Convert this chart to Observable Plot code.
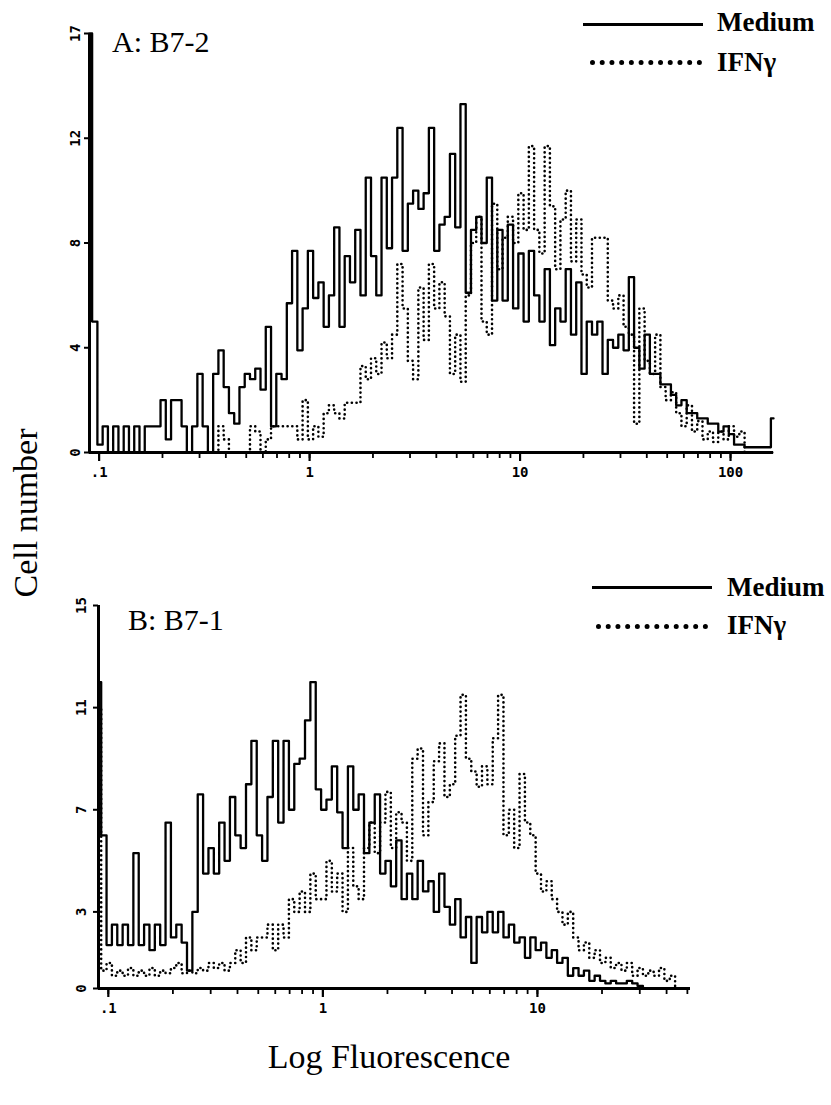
<!DOCTYPE html>
<html>
<head>
<meta charset="utf-8">
<script src="https://cdn.jsdelivr.net/npm/d3@7"></script>
<script src="https://cdn.jsdelivr.net/npm/@observablehq/plot@0.6"></script>
<style>
  body { margin: 0; background: #fff; }
  #wrap { position: relative; width: 831px; height: 1105px; overflow: hidden;
          font-family: "Liberation Serif", "Times New Roman", serif; color: #000; }
  .abs { position: absolute; white-space: nowrap; line-height: 1; }
  .title { font-size: 30px; }
  .leg { font-size: 27px; font-weight: bold; }
  .axlab { font-size: 34px; }
  .solid { border-top: 3px solid #000; height: 0; }
  .dots { border-top: 5px dotted #000; height: 0; }
</style>
</head>
<body>
<div id="wrap"></div>
<script>
// Histogram channels: 40 channels per decade, first channel at 0.09
const channelsPerDecade = 40;
const firstChannel = 0.09;

// Panel A: B7-2 (cell counts per channel)
const mediumA = [
  16, 5, 0.3, 1, 0, 1, 0, 1, 0, 1,
  0, 1, 1, 1, 2, 0.5, 2, 2, 1, 0,
  1, 3, 1, 0, 3, 3.9, 2.5, 1.5, 1.1, 2.5,
  3, 2.8, 3.2, 2.4, 4.8, 1, 3, 2.8, 5.7, 7.7,
  3.9, 5.5, 7.7, 5.9, 6.5, 4.8, 6, 8.6, 4.8, 7.5,
  6.5, 8.5, 6, 10.5, 7.5, 6, 10.5, 7.8, 10.5, 12.4,
  7.7, 9.5, 10, 9.3, 9.9, 12.4, 7.7, 8.7, 9, 11.4,
  8.6, 13.3, 6.1, 8.5, 9, 8, 10.5, 5.8, 8.5, 5.8,
  8.7, 5.5, 7.6, 5, 7.7, 6, 5, 7, 4.1, 5.5,
  5, 7, 4.5, 6.5, 3, 5, 4.5, 5, 3, 4.3,
  4, 4.5, 3.9, 6.7, 4, 3.2, 4.5, 3, 3, 2.6,
  2.6, 2.2, 1.8, 2, 1.5, 1.5, 1.3, 1.3, 1.1, 1.1,
  0.8, 1, 0.7, 0.3, 0.3, 0.2, 0.2, 0.2, 0.2, 0.2,
  1.3
];
const ifnA = [
  0, 0, 0, 0, 0, 0, 0, 0, 0, 0,
  0, 0, 0, 0, 0, 0, 0, 0, 0, 0,
  0, 0, 0, 0, 0, 1, 0.5, 0, 0, 0,
  0, 1, 0.8, 0, 0.5, 1, 1, 1, 1, 1,
  0.5, 2, 0.5, 1, 0.6, 1.5, 1.8, 1.5, 1.3, 1.9,
  1.9, 1.9, 3.3, 2.8, 3.6, 3, 4.2, 3.6, 4.5, 7.2,
  5.5, 3.5, 2.8, 6.3, 4.3, 7.2, 5.5, 6.5, 5.2, 3,
  4.5, 2.7, 6, 8, 9, 5, 4.5, 9.5, 7, 8.2,
  9, 8, 9.9, 8.5, 11.7, 8.5, 7.6, 11.7, 9.4, 7,
  8.9, 10, 7.3, 8.9, 6.8, 6.3, 8.2, 8.2, 8.2, 5.8,
  5.5, 6, 4.8, 4.5, 1.1, 5.5, 3.5, 3, 4.5, 2.5,
  2, 2.3, 1.5, 1, 1.8, 0.8, 1.2, 0.5, 0.8, 0.4,
  0.8, 0.5, 1, 0.6, 0.8, 0, 0, 0, 0, 0,
  0
];

// Panel B: B7-1
const mediumB = [
  12, 6, 1.7, 2.5, 1.7, 2.5, 1.7, 5.3, 1.7, 2.5,
  1.5, 2.5, 1.7, 6.5, 2, 2.5, 1.8, 0.7, 3, 7.6,
  4.5, 5.5, 4.5, 6.5, 5, 7.5, 6, 5.5, 8, 9.7,
  6, 5, 7.5, 9.7, 6.5, 9.7, 7, 8.8, 9, 10.5,
  12, 7.8, 7, 7.4, 8.7, 6.9, 5.5, 8.7, 7, 7.6,
  5.3, 6.5, 7.6, 4.5, 5, 4, 5.8, 3.5, 4.5, 3.5,
  5, 3.8, 4.2, 3, 4.5, 3.2, 2.5, 3.5, 2, 2.8,
  1, 2.8, 2.2, 3, 2.2, 3, 2, 2.5, 1.8, 2,
  1.2, 2, 1.5, 1.8, 1.2, 1.5, 1, 1.2, 0.5, 0.8,
  0.5, 0.7, 0.3, 0.5, 0.3, 0.2, 0.3, 0.2, 0.2, 0.3,
  0.2, 0.1, 0, 0, 0, 0, 0, 0, 0, 0,
  0
];
const ifnB = [
  11, 0.7, 1, 0.5, 0.7, 0.5, 0.8, 0.5, 0.7, 0.5,
  0.8, 0.5, 0.7, 0.6, 0.8, 1, 0.6, 0.7, 0.6, 0.8,
  0.7, 1, 0.8, 1, 0.7, 1, 1.5, 1, 2, 1.5,
  2, 2, 2.5, 1.5, 2.5, 2, 3.5, 3, 3.8, 3,
  4.5, 3.5, 3.5, 5, 3.8, 4.5, 3, 5.5, 4, 3.5,
  5.5, 6.5, 5.3, 6.5, 7.7, 5.5, 6.9, 6.5, 5, 9,
  9.4, 6, 7.3, 8.9, 9.6, 7.5, 8, 9.9, 11.5, 9,
  8.5, 7.9, 8.7, 8, 9.8, 11.5, 6, 7, 5.5, 8.4,
  6.5, 6, 4.5, 3.8, 4.2, 3.5, 3, 2.5, 3, 2,
  1.5, 1.8, 1.2, 1.5, 1, 1.2, 0.8, 1, 0.7, 1,
  0.5, 0.8, 0.5, 0.7, 0.5, 0.8, 0.3, 0.5, 0, 0,
  0
];

// Axis ticks and labels
const yTicksA = [0, 4, 8, 12, 16];
const yTickLabelsA = ["0", "4", "8", "12", "17"];
const yTicksB = [0, 3, 7, 11, 15];
const yTickLabelsB = ["0", "3", "7", "11", "15"];
const xMinorTicksA = [0.1,0.2,0.3,0.4,0.5,0.6,0.7,0.8,0.9,1,2,3,4,5,6,7,8,9,10,20,30,40,50,60,70,80,90,100];
const xMinorTicksB = [0.1,0.2,0.3,0.4,0.5,0.6,0.7,0.8,0.9,1,2,3,4,5,6,7,8,9,10,20,30,40,50];
const xMajorTicksA = [0.1, 1, 10, 100];
const xMajorLabelsA = [".1", "1", "10", "100"];
const xMajorTicksB = [0.1, 1, 10];
const xMajorLabelsB = [".1", "1", "10"];

const seriesNames = ["Medium", "IFN\u03b3"];
const panelTitles = ["A: B7-2", "B: B7-1"];

const toRows = counts => counts.map((c, i) => ({x: firstChannel * 10 ** (i / channelsPerDecade), y: c}));

function panel(o) {
  const monoBold = {fontFamily: "DejaVu Sans Mono", fontWeight: "bold", fontSize: 14, fill: "#000"};
  return Plot.plot({
    width: 831, height: o.h,
    marginLeft: o.ml, marginRight: o.mr, marginTop: o.mt, marginBottom: 40,
    x: {type: "log", domain: o.xDomain, label: null},
    y: {domain: o.yDomain, label: null},
    style: {background: "transparent", overflow: "visible"},
    marks: [
      Plot.axisX({ticks: o.xMinor, tickFormat: () => "", tickSize: 6, strokeWidth: 1.8, label: null}),
      Plot.axisX({ticks: o.xMajor, tickFormat: () => "", tickSize: 9, strokeWidth: 2.2, label: null}),
      Plot.text(o.xMajor, {x: d => d, y: () => 0, text: (d, i) => o.xLabels[i], dy: 20, ...monoBold}),
      Plot.axisY({ticks: o.yTicks, tickFormat: () => "", tickSize: 5, strokeWidth: 2, label: null}),
      Plot.text(o.yTicks, {x: () => o.xDomain[0], y: d => d, text: (d, i) => o.yLabels[i], rotate: -90, dx: o.labelDx, ...monoBold}),
      Plot.line(toRows(o.ifn), {x: "x", y: "y", curve: "step", stroke: "#000", strokeWidth: 2.6,
        strokeDasharray: "0.1,4.6", strokeLinecap: "round"}),
      Plot.line(toRows(o.medium), {x: "x", y: "y", curve: "step", stroke: "#000", strokeWidth: 2.3}),
      Plot.ruleY([0], {stroke: "#000", strokeWidth: 3}),
      Plot.ruleX([o.xDomain[0]], {stroke: "#000", strokeWidth: 3})
    ]
  });
}

const wrap = document.getElementById("wrap");

const plotA = panel({
  h: 492, ml: 89, mr: 58, mt: 33,
  xDomain: [0.09, 160], yDomain: [0, 16],
  yTicks: yTicksA, yLabels: yTickLabelsA,
  xMinor: xMinorTicksA, xMajor: xMajorTicksA, xLabels: xMajorLabelsA,
  medium: mediumA, ifn: ifnA, labelDx: -14
});
const plotB = panel({
  h: 468, ml: 98, mr: 141, mt: 45,
  xDomain: [0.09, 51.7], yDomain: [0, 15],
  yTicks: yTicksB, yLabels: yTickLabelsB,
  xMinor: xMinorTicksB, xMajor: xMajorTicksB, xLabels: xMajorLabelsB,
  medium: mediumB, ifn: ifnB, labelDx: -17
});

function place(el, left, top) {
  const d = document.createElement("div");
  d.className = "abs";
  d.style.left = left + "px";
  d.style.top = top + "px";
  d.appendChild(el);
  wrap.appendChild(d);
  return d;
}
place(plotA, 0, 0);
place(plotB, 0, 560);

function addText(txt, cls, left, top, extra) {
  const d = document.createElement("div");
  d.className = "abs " + cls;
  d.textContent = txt;
  d.style.left = left + "px";
  d.style.top = top + "px";
  if (extra) Object.assign(d.style, extra);
  wrap.appendChild(d);
  return d;
}
function addLine(cls, left, top, width) {
  const d = document.createElement("div");
  d.className = "abs " + cls;
  d.style.left = left + "px";
  d.style.top = top + "px";
  d.style.width = width + "px";
  wrap.appendChild(d);
}

// Titles
addText(panelTitles[0], "title", 112, 27);
addText(panelTitles[1], "title", 128, 605);

// Legends
addLine("solid", 583, 23, 120);
addText(seriesNames[0], "leg", 717, 9);
addLine("dots", 590, 60, 112);
addText(seriesNames[1], "leg", 717, 49);

addLine("solid", 592, 586, 120);
addText(seriesNames[0], "leg", 727, 574);
addLine("dots", 596, 624, 112);
addText(seriesNames[1], "leg", 727, 612);

// Axis titles
addText("Cell number", "axlab", 26, 513, {transform: "translate(-50%,-50%) rotate(-90deg)"});
addText("Log Fluorescence", "axlab", 389, 1040, {transform: "translateX(-50%)"});
</script>
</body>
</html>
